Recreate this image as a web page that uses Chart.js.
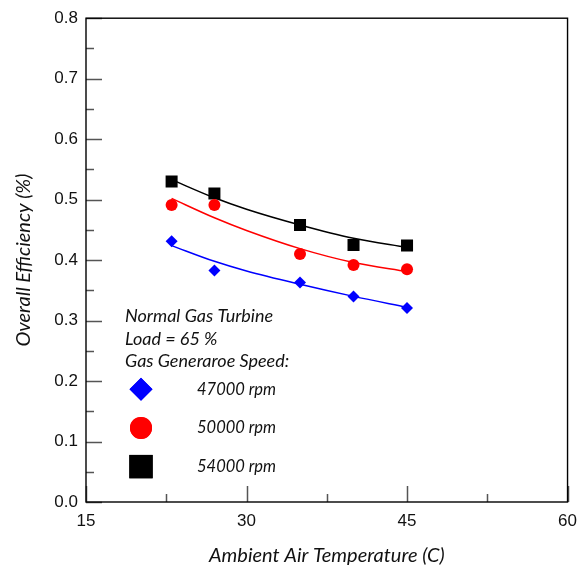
<!DOCTYPE html>
<html>
<head>
<meta charset="utf-8">
<script src="https://cdn.jsdelivr.net/npm/chart.js@4.4.1/dist/chart.umd.min.js"></script>
<style>
  html, body { margin: 0; padding: 0; background: #fff; }
  #wrap { width: 586px; height: 568px; }
</style>
</head>
<body>
<div id="wrap"><canvas id="eff"></canvas></div>
<script>
// measured temperatures (C)
const temps = [23, 27, 35, 40, 45];
// overall efficiency per gas generator speed
const eff47000 = [0.431, 0.383, 0.363, 0.340, 0.321];
const eff50000 = [0.491, 0.491, 0.410, 0.392, 0.385];
const eff54000 = [0.530, 0.510, 0.458, 0.425, 0.424];

// trend curves
const fitTemps = [23, 27, 30, 35, 40, 45];
const fit47000 = [0.424, 0.398, 0.382, 0.360, 0.340, 0.322];
const fit50000 = [0.502, 0.470, 0.449, 0.419, 0.396, 0.381];
const fit54000 = [0.533, 0.503, 0.484, 0.458, 0.436, 0.421];

const xTicks = [15, 30, 45, 60];
const xMinor = [22.5, 37.5, 52.5];
const yTicks = [0, 0.1, 0.2, 0.3, 0.4, 0.5, 0.6, 0.7, 0.8];
const yMinor = [0.05, 0.15, 0.25, 0.35, 0.45, 0.55, 0.65, 0.75];

const noteLines = ['Normal Gas Turbine', 'Load = 65 %', 'Gas Generaroe Speed:'];
const speedLabels = ['47000 rpm', '50000 rpm', '54000 rpm'];

const pts = (xs, ys) => xs.map((x, i) => ({x: x, y: ys[i]}));

const series = [
    {label: speedLabels[0], color: '#0000ff', style: 'rectRot', r: 6, legendR: 11.5, data: eff47000, fit: fit47000},
    {label: speedLabels[1], color: '#ff0000', style: 'circle', r: 6, legendR: 11, data: eff50000, fit: fit50000},
    {label: speedLabels[2], color: '#000000', style: 'rect', r: 8.5, legendR: 16.5, data: eff54000, fit: fit54000}
];

const datasets = [];
series.forEach(function (s) {
    datasets.push({
        label: s.label + ' fit',
        data: pts(fitTemps, s.fit),
        showLine: true,
        borderColor: s.color,
        borderWidth: 1.5,
        pointRadius: 0,
        cubicInterpolationMode: 'monotone',
        order: 2
    });
    datasets.push({
        label: s.label,
        data: pts(temps, s.data),
        showLine: false,
        pointStyle: s.style,
        pointRadius: s.r,
        pointBackgroundColor: s.color,
        pointBorderColor: s.color,
        pointBorderWidth: 0,
        order: 1
    });
});

// frame, inward ticks and the text block with the marker key
const framePlugin = {
    id: 'frame',
    afterDraw: function (chart) {
        const ctx = chart.ctx, a = chart.chartArea;
        const xs = chart.scales.x, ys = chart.scales.y;
        ctx.save();
        ctx.strokeStyle = '#555';
        ctx.lineWidth = 1.5;
        ctx.beginPath();
        yTicks.forEach(function (v) {
            const p = Math.round(ys.getPixelForValue(v)) + 0.5;
            ctx.moveTo(a.left, p); ctx.lineTo(a.left + 16, p);
        });
        yMinor.forEach(function (v) {
            const p = Math.round(ys.getPixelForValue(v)) + 0.5;
            ctx.moveTo(a.left, p); ctx.lineTo(a.left + 8, p);
        });
        xTicks.forEach(function (v) {
            const p = Math.round(xs.getPixelForValue(v)) + 0.5;
            ctx.moveTo(p, a.bottom); ctx.lineTo(p, a.bottom - 16);
        });
        xMinor.forEach(function (v) {
            const p = Math.round(xs.getPixelForValue(v)) + 0.5;
            ctx.moveTo(p, a.bottom); ctx.lineTo(p, a.bottom - 8);
        });
        ctx.stroke();

        ctx.strokeStyle = '#000';
        ctx.lineWidth = 1.4;
        ctx.strokeRect(a.left, a.top, a.right - a.left, a.bottom - a.top);

        // notes
        const left = a.left + 39;
        ctx.fillStyle = '#111';
        ctx.font = 'italic 18px Lato, "Open Sans", sans-serif';
        ctx.textAlign = 'left';
        ctx.textBaseline = 'middle';
        noteLines.forEach(function (t, i) {
            ctx.fillText(t, left, a.top + 298 + i * 22.5);
        });
        ctx.font = 'italic 16.5px Lato, "Open Sans", sans-serif';
        series.forEach(function (s, i) {
            const cy = a.top + 371 + i * 38.7;
            ctx.fillStyle = s.color;
            Chart.helpers.drawPoint(ctx, {pointStyle: s.style, radius: s.legendR, borderWidth: 0}, a.left + 55, cy);
            ctx.fill();
            ctx.fillStyle = '#111';
            ctx.fillText(s.label, a.left + 111, cy);
        });
        ctx.restore();
    }
};

new Chart(document.getElementById('eff'), {
    type: 'scatter',
    data: {datasets: datasets},
    options: {
        responsive: true,
        maintainAspectRatio: false,
        animation: false,
        layout: {padding: {top: 18, right: 16, left: 0, bottom: 0}},
        plugins: {legend: {display: false}, tooltip: {enabled: false}},
        scales: {
            x: {
                type: 'linear', min: 15, max: 60,
                afterFit: function (s) { s.height = 66; },
                afterBuildTicks: function (s) { s.ticks = xTicks.map(v => ({value: v})); },
                grid: {display: false, drawTicks: false},
                border: {display: false},
                ticks: {
                    padding: 9, color: '#111',
                    font: {family: '"Liberation Sans", Arial, sans-serif', size: 17},
                    maxRotation: 0
                },
                title: {
                    display: true, text: 'Ambient Air Temperature (C)', color: '#111',
                    font: {family: 'Lato, "Open Sans", sans-serif', size: 20, style: 'italic'},
                    padding: {top: 0, bottom: 0}
                }
            },
            y: {
                type: 'linear', min: 0, max: 0.8,
                afterFit: function (s) { s.width = 86; },
                afterBuildTicks: function (s) { s.ticks = yTicks.map(v => ({value: v})); },
                grid: {display: false, drawTicks: false},
                border: {display: false},
                ticks: {
                    padding: 8, color: '#111',
                    font: {family: '"Liberation Sans", Arial, sans-serif', size: 17},
                    callback: v => v.toFixed(1)
                },
                title: {
                    display: true, text: 'Overall Efficiency (%)', color: '#111',
                    font: {family: 'Lato, "Open Sans", sans-serif', size: 20, style: 'italic'},
                    padding: {top: 12, bottom: 0}
                }
            }
        }
    },
    plugins: [framePlugin]
});
</script>
</body>
</html>
